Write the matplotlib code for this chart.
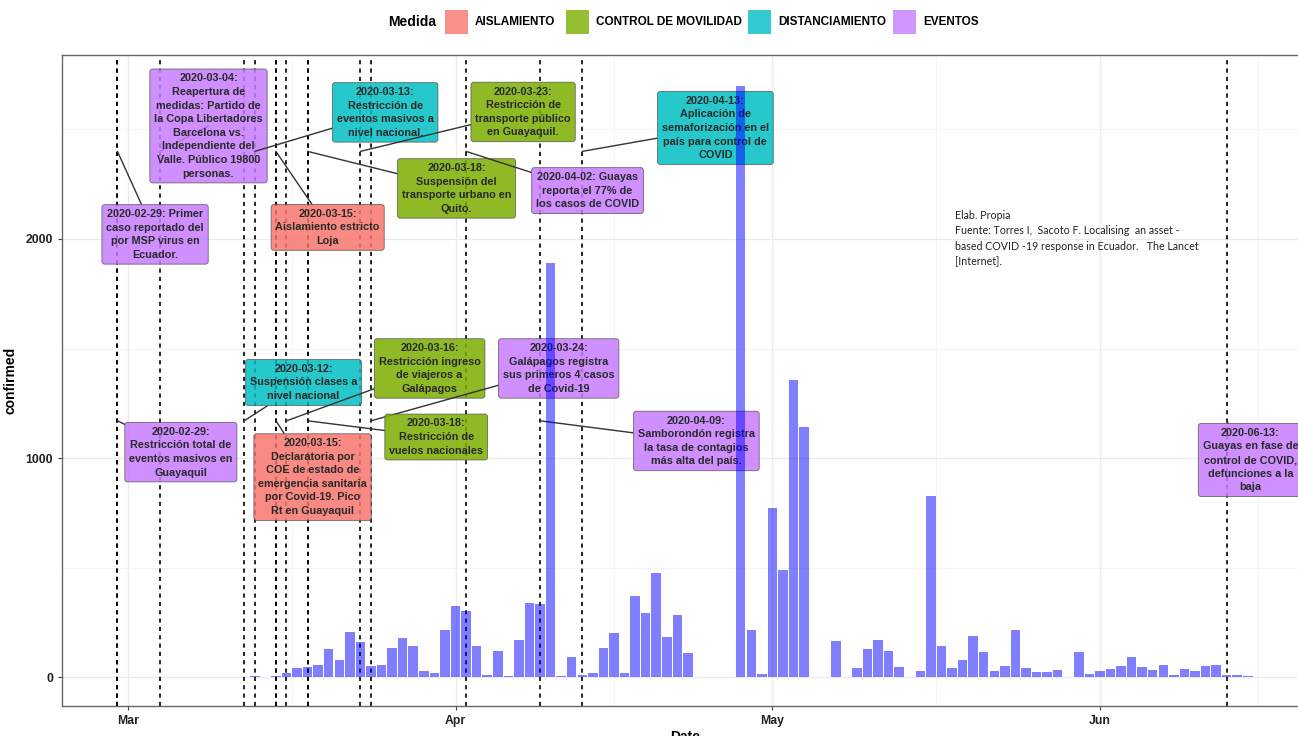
import numpy as np
import pandas as pd
import matplotlib
matplotlib.use("Agg")
import matplotlib.pyplot as plt
import matplotlib.dates as mdates
from matplotlib.patches import Rectangle

# daily confirmed cases, starting 2020-03-12
start_date = "2020-03-12"
confirmed = [1, 6, 2, 6, 17, 40, 44, 55, 128, 78, 207, 160, 52, 55, 134, 178, 140, 29, 17, 215,
             324, 300, 142, 9, 119, 6, 169, 339, 335, 1890, 4, 90, 9, 17, 131, 201, 20, 371, 294, 473,
             184, 282, 108, 0, 0, 0, 0, 2700, 215, 14,
             772, 487, 1356, 1142, 0, 0, 163, 0, 43, 126, 169, 120, 46, 0, 30, 826, 143, 40, 76, 186,
             116, 30, 49, 215, 43, 24, 24, 32, 2, 113, 12,
             26, 35, 52, 90, 47, 32, 55, 11, 35, 27, 50, 53, 9, 8, 6]

medidas = ["AISLAMIENTO", "CONTROL DE MOVILIDAD", "DISTANCIAMIENTO", "EVENTOS"]
medida_colors = ["#F8766D", "#7CAE00", "#00BFC4", "#C77CFF"]

event_dates = ["2020-02-29", "2020-03-04", "2020-03-13", "2020-03-23", "2020-03-18", "2020-03-15",
               "2020-04-02", "2020-04-13", "2020-02-29", "2020-03-12", "2020-03-16", "2020-03-24",
               "2020-03-18", "2020-03-15", "2020-04-09", "2020-06-13"]
event_medida = ["EVENTOS", "EVENTOS", "DISTANCIAMIENTO", "CONTROL DE MOVILIDAD", "CONTROL DE MOVILIDAD",
                "AISLAMIENTO", "EVENTOS", "DISTANCIAMIENTO", "EVENTOS", "DISTANCIAMIENTO",
                "CONTROL DE MOVILIDAD", "EVENTOS", "CONTROL DE MOVILIDAD", "AISLAMIENTO", "EVENTOS", "EVENTOS"]
event_y = [2400] * 8 + [1170] * 8
event_text = [
    "2020-02-29: Primer\ncaso reportado del\npor MSP virus en\nEcuador.",
    "2020-03-04:\nReapertura de\nmedidas: Partido de\nla Copa Libertadores\nBarcelona vs.\nIndependiente del\nValle. Público 19800\npersonas.",
    "2020-03-13:\nRestricción de\neventos masivos a\nnivel nacional.",
    "2020-03-23:\nRestricción de\ntransporte público\nen Guayaquil.",
    "2020-03-18:\nSuspensión del\ntransporte urbano en\nQuito.",
    "2020-03-15:\nAislamiento estricto\nLoja",
    "2020-04-02: Guayas\nreporta el 77% de\nlos casos de COVID",
    "2020-04-13:\nAplicación de\nsemaforización en el\npaís para control de\nCOVID",
    "2020-02-29:\nRestricción total de\neventos masivos en\nGuayaquil",
    "2020-03-12:\nSuspensión clases a\nnivel nacional",
    "2020-03-16:\nRestricción ingreso\nde viajeros a\nGalápagos",
    "2020-03-24:\nGalápagos registra\nsus primeros 4 casos\nde Covid-19",
    "2020-03-18:\nRestricción de\nvuelos nacionales",
    "2020-03-15:\nDeclaratoria por\nCOE de estado de\nemergencia sanitaria\npor Covid-19. Pico\nRt en Guayaquil",
    "2020-04-09:\nSamborondón registra\nla tasa de contagios\nmás alta del país.",
    "2020-06-13:\nGuayas en fase de\ncontrol de COVID,\ndefunciones a la\nbaja",
]
# label box centres (days after 2020-03-01, y value)
label_day = [2.56, 7.62, 24.34, 37.4, 31.1, 18.9, 43.5, 55.6, 5.0, 16.6, 28.55, 40.77, 29.17, 17.47, 53.8, 106.25]
label_val = [2021, 2516, 2578, 2580, 2231, 2053, 2221, 2507, 1027, 1345, 1409, 1409, 1096, 913, 1078, 991]

note = ("Elab. Propia\nFuente: Torres I,  Sacoto F. Localising  an asset -\n"
        "based COVID -19 response in Ecuador.   The Lancet\n[Internet].")

W, H = 1298, 736
fig = plt.figure(figsize=(W / 100, H / 100), dpi=100)
ax = fig.add_axes([62 / W, 30 / H, (1308 - 62) / W, (706 - 55) / H])

base = mdates.date2num(np.datetime64("2020-03-01"))
dates = pd.date_range(start_date, periods=len(confirmed), freq="D")

for d in event_dates:
    ax.axvline(mdates.date2num(np.datetime64(d)), color="black", lw=1.2,
               linestyle=(0, (2.5, 2.5)), zorder=1)

color_of = dict(zip(medidas, medida_colors))
for txt, d, m, yv, lx, ly in zip(event_text, event_dates, event_medida, event_y, label_day, label_val):
    xd = mdates.date2num(np.datetime64(d))
    ax.annotate(txt, xy=(xd, yv), xytext=(base + lx, ly), ha="center", va="center",
                fontsize=7.8, fontweight="bold", color="#2a2a2a", family="Liberation Sans",
                linespacing=1.45, zorder=2, annotation_clip=False,
                bbox=dict(boxstyle="round,pad=0.4,rounding_size=0.25", fc=color_of[m],
                          ec="#555555", lw=0.6, alpha=0.85),
                arrowprops=dict(arrowstyle="-", color="#333333", lw=1.0, shrinkA=0, shrinkB=0))

ax.bar(dates, confirmed, width=0.9, color="blue", alpha=0.5, zorder=3)

ax.text(0.717, 0.762, note, transform=ax.transAxes, family="Lato", fontsize=7.7,
        linespacing=1.5, va="top", ha="left", color="#222222")

ax.set_xlim(base - 6.25, base + 111.7)
ax.set_ylim(-132, 2840)

months = [np.datetime64(m) for m in ["2020-03-01", "2020-04-01", "2020-05-01", "2020-06-01", "2020-07-01"]]
month_num = mdates.date2num(months)
ax.set_xticks(month_num[:4])
ax.set_xticklabels(["Mar", "Apr", "May", "Jun"])
ax.set_xticks((month_num[:-1] + month_num[1:]) / 2, minor=True)
ax.set_yticks([0, 1000, 2000])
ax.set_yticks([500, 1500, 2500], minor=True)
ax.grid(which="major", color="#EBEBEB", lw=0.9, zorder=0)
ax.grid(which="minor", color="#F4F4F4", lw=0.6, zorder=0)
ax.set_axisbelow(True)
ax.tick_params(which="major", length=3, color="#444444", labelsize=8.8, labelcolor="#222222")
ax.tick_params(which="minor", length=0)
for lab in ax.get_xticklabels() + ax.get_yticklabels():
    lab.set_fontweight("bold")
    lab.set_family("Liberation Sans")
for s in ax.spines.values():
    s.set_color("#666666")
    s.set_linewidth(1.0)

ax.set_xlabel("Date", fontsize=10, fontweight="bold", family="Liberation Sans", labelpad=2)
ax.set_ylabel("confirmed", fontsize=10, fontweight="bold", family="Liberation Sans", labelpad=6)

# legend on top
fig.text(388 / W, 1 - 22 / H, "Medida", fontsize=10, fontweight="bold", va="center",
         family=["Liberation Sans Narrow", "Liberation Sans"])
key_x = [445, 566, 748, 893]
for kx, m, c in zip(key_x, medidas, medida_colors):
    fig.patches.append(Rectangle((kx / W, 1 - 34 / H), 23 / W, 24 / H, transform=fig.transFigure,
                                 fc=c, ec="none", alpha=0.8))
    fig.text((kx + 30) / W, 1 - 22 / H, m, fontsize=8.5, fontweight="bold", va="center",
             family=["Liberation Sans Narrow", "Liberation Sans"])

fig.savefig("out.png", dpi=100)
